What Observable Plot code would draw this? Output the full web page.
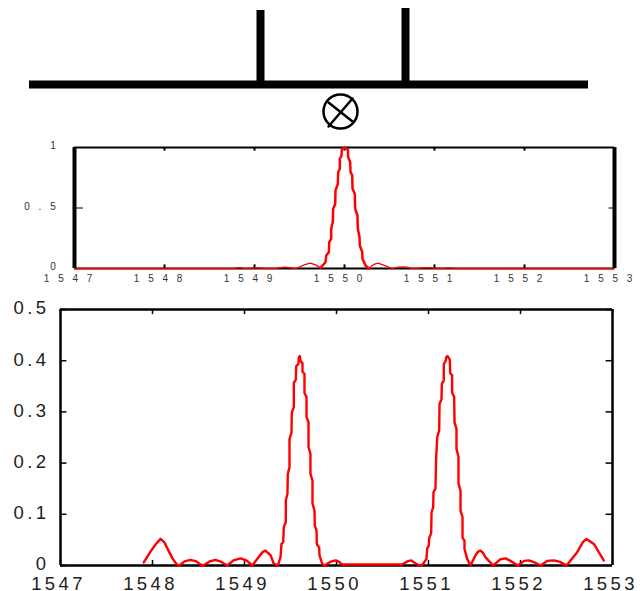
<!DOCTYPE html>
<html><head><meta charset="utf-8">
<script src="https://cdn.jsdelivr.net/npm/d3@7"></script>
<script src="https://cdn.jsdelivr.net/npm/@observablehq/plot@0.6"></script>
<style>
html,body{margin:0;padding:0;background:#fff}
#page{position:relative;width:642px;height:591px;overflow:hidden}
#page svg{position:absolute;left:0;background:transparent;overflow:visible}
.small text{font:10px "Liberation Sans",Arial,sans-serif;letter-spacing:8.8px;fill:#333}
.big text{font:18.5px "Liberation Sans",Arial,sans-serif;letter-spacing:3.4px;fill:#222}
</style></head><body><div id="page"></div>
<script>
// Diagram (units on a 642 x 140 schematic)
const busX = [29, 588], busY = 84;
const stubX = [260, 405], stubTop = [10, 8];
const lampCentre = [340, 111];
const lampCrossA = [[328, 102], [352, 121]];
const lampCrossB = [[328, 126], [352, 98]];

// Upper panel: wavelength (nm) and normalised transmission
const topWave = [1547,1548.70,1548.77,1548.83,1548.90,1549.01,1549.11,1549.21,1549.34,1549.46,1549.56,1549.62,1549.68,1549.733];
const topVal  = [0,0,0,.008,0,.006,.002,0,.012,0,.032,.044,.030,.005];
const peakWave = [1549.733,1549.789,1549.797,1549.826,1549.830,1549.852,1549.852,1549.870,1549.874,1549.897,1549.900,1549.926,1549.930,1549.948,1549.948,1549.967,1549.970,1550,
1550.037,1550.041,1550.063,1550.067,1550.086,1550.089,1550.114,1550.119,1550.144,1550.148,1550.167,1550.170,1550.197,1550.200,1550.233,1550.270];
const peakVal  = [.005,.052,.107,.135,.217,.245,.328,.383,.493,.535,.645,.700,.796,.824,.907,.934,.983,1,
.983,.920,.879,.796,.769,.659,.617,.493,.438,.328,.259,.190,.135,.080,.025,0];
const tailWave = [1550.270,1550.32,1550.37,1550.42,1550.53,1550.60,1550.641,1550.69,1550.752,1550.919,1551.085,1551.158,1551.252,1553];
const tailVal  = [0,.032,.044,.032,0,.012,.014,.012,0,.008,0,.006,0,0];

// Lower panel
const lowWave = [1547.905,1547.978,1548.033,1548.087,1548.130,1548.174,1548.217,1548.260,1548.293,1548.348,1548.413,1548.478,1548.520,1548.554,1548.620,1548.685,1548.750,1548.812,1548.880,1548.957,1549.022,1549.084,1549.152,1549.195,1549.228,1549.283,1549.318,1549.362,
1549.391,1549.402,1549.421,1549.427,1549.449,1549.449,1549.467,1549.471,1549.489,1549.489,1549.511,1549.514,1549.536,1549.536,1549.558,1549.562,1549.587,1549.590,1549.601,
1549.609,1549.630,1549.630,1549.652,1549.652,1549.674,1549.674,1549.696,1549.696,1549.717,1549.717,1549.739,1549.739,1549.761,1549.764,1549.783,1549.786,1549.812,1549.815,1549.845,1549.870,
1549.930,1549.989,1550.020,1550.062,1550.714,1550.770,1550.812,1550.860,1550.902,1550.932,
1550.978,1550.986,1551.003,1551.008,1551.029,1551.033,1551.051,1551.054,1551.076,1551.082,1551.095,1551.116,1551.120,1551.141,1551.145,1551.166,1551.166,1551.188,1551.192,1551.207,
1551.232,1551.236,1551.257,1551.257,1551.279,1551.283,1551.304,1551.304,1551.326,1551.326,1551.348,1551.348,1551.370,1551.370,1551.391,1551.391,1551.420,1551.457,
1551.511,1551.540,1551.565,1551.590,1551.620,1551.703,1551.780,1551.837,1551.890,1551.971,1552.040,1552.090,1552.140,1552.217,1552.290,1552.362,1552.430,1552.500,1552.616,1552.680,1552.717,1552.750,1552.797,1552.905];
const lowVal = [.006,.027,.041,.052,.045,.029,.014,.003,0,.008,.011,.008,.002,0,.008,.011,.007,0,.010,.014,.010,0,.016,.026,.029,.020,.004,0,
.016,.042,.046,.075,.085,.127,.140,.179,.192,.247,.260,.299,.309,.357,.363,.389,.394,.406,.409,
.400,.395,.379,.374,.337,.329,.290,.280,.231,.218,.179,.166,.121,.107,.078,.068,.042,.035,.020,.003,0,
.007,.010,.008,.002,.002,.008,.010,.004,0,.001,
.013,.033,.039,.054,.063,.104,.114,.143,.150,.205,.251,.264,.316,.324,.355,.361,.393,.400,.407,.409,
.402,.376,.371,.338,.329,.280,.267,.228,.212,.160,.146,.107,.094,.054,.049,.033,.013,0,
.020,.027,.029,.025,.016,0,.012,.014,.009,0,.009,.010,.007,0,.009,.010,.007,0,.026,.046,.052,.048,.042,.010];

const xTicks = [1547,1548,1549,1550,1551,1552,1553];
const topYTicks = [0,.5,1];
const lowYTicks = [0,.1,.2,.3,.4,.5];
const fmtTop = d => d === .5 ? "0.5" : String(d);
const fmtLow = d => d === 0 ? "0" : d3.format(".1f")(d);
const red = "#ff0000", ink = "#000000";
const zip = (a, b) => a.map((x, i) => ({x, y: b[i]}));

const page = document.getElementById("page");
function place(svg, top, cls){ svg.style.top = top + "px"; if (cls) svg.classList.add(cls); page.appendChild(svg); }

place(Plot.plot({
  width: 642, height: 140, margin: 0,
  x: {domain: [0, 642], axis: null}, y: {domain: [140, 0], axis: null},
  marks: [
    Plot.ruleY([busY], {x1: busX[0], x2: busX[1], stroke: ink, strokeWidth: 8}),
    Plot.ruleX(stubX, {y1: (d, i) => stubTop[i], y2: busY, stroke: ink, strokeWidth: 8}),
    Plot.dot([lampCentre], {x: d => d[0], y: d => d[1], r: 17, stroke: ink, strokeWidth: 2.5, fill: "none"}),
    Plot.line(lampCrossA, {x: d => d[0], y: d => d[1], stroke: ink, strokeWidth: 2.5}),
    Plot.line(lampCrossB, {x: d => d[0], y: d => d[1], stroke: ink, strokeWidth: 2.5})
  ]
}), 0);

place(Plot.plot({
  width: 642, height: 153, marginTop: 12, marginBottom: 20, marginLeft: 74, marginRight: 28,
  x: {domain: [1547, 1553], axis: null}, y: {domain: [0, 1], axis: null},
  marks: [
    Plot.axisX({anchor: "bottom", ticks: xTicks, tickSize: 0, tickPadding: 6, dx: -2, tickFormat: d => String(d), label: null}),
    Plot.axisY({anchor: "left", ticks: topYTicks, tickSize: 0, tickPadding: 10, dy: -1.5, tickFormat: fmtTop, label: null}),
    Plot.ruleX(xTicks, {x: d => d, y1: 0, y2: .03, stroke: ink, strokeWidth: 2}),
    Plot.ruleX(xTicks, {x: d => d, y1: .97, y2: 1, stroke: ink, strokeWidth: 2}),
    Plot.ruleY([.5], {x1: 1547, x2: 1547.1, stroke: ink, strokeWidth: 1}),
    Plot.ruleY([.5], {x1: 1552.94, x2: 1553, stroke: ink, strokeWidth: 1}),
    Plot.ruleY([0, 1], {stroke: ink, strokeWidth: 2}),
    Plot.ruleX([1547, 1553], {stroke: ink, strokeWidth: 4}),
    Plot.line(zip(topWave, topVal), {x: "x", y: "y", stroke: red, strokeWidth: 1.3}),
    Plot.line(zip(tailWave, tailVal), {x: "x", y: "y", stroke: red, strokeWidth: 1.3}),
    Plot.line(zip(peakWave, peakVal), {x: "x", y: "y", stroke: red, strokeWidth: 2.5})
  ]
}), 135, "small");

place(Plot.plot({
  width: 642, height: 301, marginTop: 19, marginBottom: 26, marginLeft: 60, marginRight: 30,
  x: {domain: [1547, 1553], axis: null}, y: {domain: [0, .5], axis: null},
  marks: [
    Plot.axisX({anchor: "bottom", ticks: xTicks, tickSize: 0, tickPadding: 9, dx: -2, dy: 2, tickFormat: d => String(d), label: null}),
    Plot.axisY({anchor: "left", ticks: lowYTicks, tickSize: 0, tickPadding: 11, dy: -1, tickFormat: fmtLow, label: null}),
    Plot.ruleX(xTicks, {x: d => d, y1: 0, y2: .01, stroke: ink, strokeWidth: 1.5}),
    Plot.ruleX(xTicks, {x: d => d, y1: .49, y2: .5, stroke: ink, strokeWidth: 1.5}),
    Plot.ruleY(lowYTicks, {x1: 1547, x2: 1547.07, stroke: ink, strokeWidth: 1.5}),
    Plot.ruleY(lowYTicks, {x1: 1552.93, x2: 1553, stroke: ink, strokeWidth: 1.5}),
    Plot.ruleY([0, .5], {stroke: ink, strokeWidth: 2.5}),
    Plot.ruleX([1547, 1553], {stroke: ink, strokeWidth: 2.5}),
    Plot.line(zip(lowWave, lowVal), {x: "x", y: "y", stroke: red, strokeWidth: 2.4})
  ]
}), 290, "big");
</script></body></html>
